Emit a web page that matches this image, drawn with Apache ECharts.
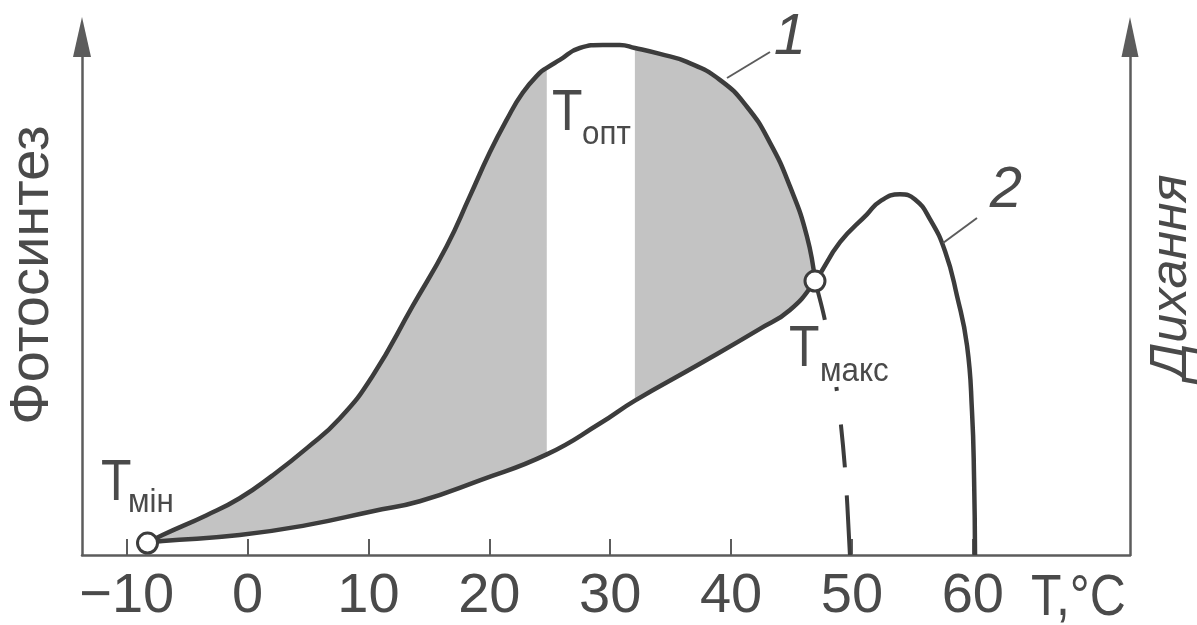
<!DOCTYPE html>
<html><head><meta charset="utf-8">
<script src="https://cdn.jsdelivr.net/npm/echarts@6/dist/echarts.min.js"></script>
<style>html,body{margin:0;padding:0;background:#fff}#c{width:1197px;height:625px}</style>
</head><body><div id="c"></div><script>
// ---- data (temperature °C, relative intensity 0..100) ----
const xTicks = [-10, 0, 10, 20, 30, 40, 50, 60];
const xTickLabels = ['\u221210', '0', '10', '20', '30', '40', '50', '60'];
// curve 1: photosynthesis
const photo = [
  [-8.28, 2.31], [-7.04, 3.85], [-3.39, 7.69], [-0.66, 10.96], [2.07, 15.38],
  [4.88, 20.58], [7.62, 26.35], [10.35, 34.62], [13.66, 48.08], [16.47, 59.62],
  [18.38, 69.23], [20.03, 77.69], [21.44, 84.04], [22.76, 89.23], [24.17, 93.08],
  [24.75, 94.04], [25.83, 95.58], [27.48, 97.88], [29.39, 98.46], [30.79, 98.46],
  [32.04, 97.88], [34.11, 96.73], [36.34, 95.19], [39.07, 91.73], [41.31, 86.54],
  [43.21, 79.62], [44.87, 71.15], [46.27, 61.54], [46.94, 52.88]
];
// curve 1 continuation beyond T max (dashed)
const photoTail = [[46.94, 52.88], [47.77, 45.19], [48.76, 31.54], [49.42, 16.73], [49.83, 0]];
// curve 2: respiration
const resp = [
  [-8.28, 2.31], [-7.04, 2.69], [-0.66, 3.85], [4.88, 5.77], [10.35, 8.46],
  [14.24, 10.38], [19.21, 14.42], [24.75, 19.42], [29.14, 25.38], [32.04, 29.81],
  [37.42, 36.92], [42.38, 43.65], [44.87, 47.31], [46.94, 52.88], [49.01, 60.38],
  [51.24, 65.77], [52.32, 68.27], [53.97, 69.62], [55.22, 68.65], [56.46, 64.81],
  [57.70, 58.65], [58.69, 50.0], [59.52, 40.38], [59.93, 27.69], [60.10, 14.81], [60.18, 0]
];
// shaded ranges between the curves (T from..to), the optimum band stays white
const shadeRanges = [[-8.28, 24.75], [32.04, 46.94]];
// marked points: T min and T max (curves crossing)
const markPts = [[-8.28, 2.31], [46.94, 52.88]];

const FONT = '"Liberation Sans", Arial, sans-serif';
const TXT = '#4a4a4a';
const CURVE = '#3c3c3c';
const AXIS = '#5c5c5c';

const chart = echarts.init(document.getElementById('c'), null, {renderer: 'canvas'});

function inRange(p, lo, hi) { return p[0] >= lo - 1e-9 && p[0] <= hi + 1e-9; }

function txt(text, x, y, size, opts) {
  opts = opts || {};
  return {
    type: 'text', x: x, y: y, rotation: opts.rot || 0, z: 100,
    scaleX: opts.sx || 1,
    style: {
      text: text, fill: TXT,
      font: (opts.italic ? 'italic ' : '') + size + 'px ' + FONT,
      align: opts.align || 'left', textAlign: opts.align || 'left',
      verticalAlign: 'middle', textVerticalAlign: 'middle'
    }
  };
}

const option = {
  backgroundColor: '#ffffff',
  animation: false,
  grid: {left: 82, right: 67, top: 37, bottom: 68, containLabel: false},
  xAxis: {
    type: 'value', min: -13.7, max: 73,
    axisLine: {show: true, onZero: false, lineStyle: {color: AXIS, width: 2.5}},
    axisTick: {show: true, inside: true, length: 16, customValues: xTicks, lineStyle: {color: AXIS, width: 2}},
    axisLabel: {
      show: true, customValues: xTicks, margin: 14, fontSize: 56, fontFamily: FONT, color: TXT,
      formatter: function (v) { const i = xTicks.indexOf(v); return i >= 0 ? xTickLabels[i] : ''; }
    },
    splitLine: {show: false}
  },
  yAxis: [
    {
      type: 'value', min: 0, max: 100, position: 'left',
      axisLine: {show: true, onZero: false, symbol: ['none', 'triangle'], symbolSize: [18, 40], lineStyle: {color: AXIS, width: 2.5}},
      axisTick: {show: false}, axisLabel: {show: false}, splitLine: {show: false}
    },
    {
      type: 'value', min: 0, max: 100, position: 'right',
      axisLine: {show: true, onZero: false, symbol: ['none', 'triangle'], symbolSize: [17, 40], lineStyle: {color: AXIS, width: 2.5}},
      axisTick: {show: false}, axisLabel: {show: false}, splitLine: {show: false}
    }
  ],
  series: [
    {
      type: 'custom', z: 1, silent: true,
      data: shadeRanges,
      encode: {x: 0},
      renderItem: function (params, api) {
        const lo = api.value(0), hi = api.value(1);
        const up = photo.filter(p => inRange(p, lo, hi)).map(p => api.coord(p));
        const dn = resp.filter(p => inRange(p, lo, hi)).reverse().map(p => api.coord(p));
        return {type: 'polygon', shape: {points: up.concat(dn)}, style: {fill: '#c3c3c3', stroke: null}};
      }
    },
    {
      type: 'line', z: 3, data: resp, smooth: 0.5, showSymbol: false, silent: true,
      lineStyle: {color: CURVE, width: 4.5}
    },
    {
      type: 'line', z: 3, data: photo, smooth: 0.5, showSymbol: false, silent: true,
      lineStyle: {color: CURVE, width: 4.5}
    },
    {
      type: 'line', z: 3, data: photoTail, smooth: 0.3, showSymbol: false, silent: true,
      lineStyle: {color: CURVE, width: 4, type: [40, 68, 4, 34, 43, 28, 80]}
    },
    {
      type: 'scatter', z: 5, data: markPts, symbol: 'circle', symbolSize: 20, silent: true,
      itemStyle: {color: '#ffffff', borderColor: CURVE, borderWidth: 3, opacity: 1}
    }
  ],
  graphic: [
    txt('Фотосинтез', 33, 275, 56, {rot: Math.PI / 2, align: 'center'}),
    txt('Дихання', 1172, 277, 52, {rot: Math.PI / 2, align: 'center', italic: true}),
    txt('T', 101, 484, 58, {sx: 0.86}),
    txt('мін', 128, 503, 33, {sx: 0.95}),
    txt('T', 552, 114, 58, {sx: 0.86}),
    txt('опт', 582, 135, 33, {sx: 0.95}),
    txt('T', 789, 350, 58, {sx: 0.86}),
    txt('макс', 820, 372, 33, {sx: 0.95}),
    txt('1', 790, 38, 58, {italic: true, align: 'center'}),
    txt('2', 1006, 191, 58, {italic: true, align: 'center'}),
    txt('T,°C', 1031, 599, 58, {sx: 0.86}),
    {type: 'line', z: 100, shape: {x1: 727, y1: 78, x2: 770, y2: 52}, style: {stroke: AXIS, lineWidth: 2}},
    {type: 'line', z: 100, shape: {x1: 943, y1: 243, x2: 977, y2: 218}, style: {stroke: AXIS, lineWidth: 2}}
  ]
};
chart.setOption(option);
</script></body></html>
